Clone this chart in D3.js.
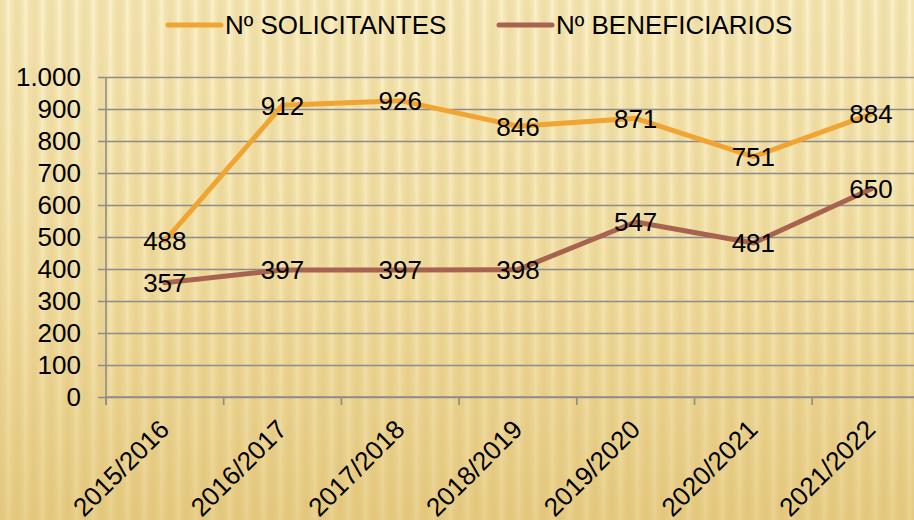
<!DOCTYPE html>
<html>
<head>
<meta charset="utf-8">
<script src="https://cdn.jsdelivr.net/npm/d3@7"></script>
<style>
  body { margin: 0; }
  svg { display: block; font-family: "Liberation Sans", Arial, sans-serif; }
</style>
</head>
<body>
<div id="container"></div>
<script>
/* DATA */
const categories = ["2015/2016", "2016/2017", "2017/2018", "2018/2019", "2019/2020", "2020/2021", "2021/2022"];
const solicitantes = [488, 912, 926, 846, 871, 751, 884];
const beneficiarios = [357, 397, 397, 398, 547, 481, 650];
const yTicks = [0, 100, 200, 300, 400, 500, 600, 700, 800, 900, 1000];
const seriesNames = ["Nº SOLICITANTES", "Nº BENEFICIARIOS"];

/* CONSTANTS */
const width = 914;
const height = 520;
const margin = { top: 77, left: 106, bottom: 123 };
const bandW = 117.7;
const colors = ["#F0A431", "#A86350"];
const gridColor = "#8c8c8c";

const svg = d3.select("#container")
  .append("svg")
  .attr("width", width)
  .attr("height", height);

/* BACKGROUND */
const defs = svg.append("defs");
const bg = defs.append("linearGradient")
  .attr("id", "bg").attr("x1", 0).attr("y1", 0).attr("x2", 0).attr("y2", 1);
bg.append("stop").attr("offset", "0%").attr("stop-color", "#F8EBBC");
bg.append("stop").attr("offset", "55%").attr("stop-color", "#F0DC9E");
bg.append("stop").attr("offset", "100%").attr("stop-color", "#E5C97F");

const stripe = defs.append("linearGradient")
  .attr("id", "stripe").attr("x1", 0).attr("y1", 0).attr("x2", 1).attr("y2", 0);
stripe.append("stop").attr("offset", "0%").attr("stop-color", "#c9a64a").attr("stop-opacity", 0.18);
stripe.append("stop").attr("offset", "50%").attr("stop-color", "#fff8dc").attr("stop-opacity", 0.4);
stripe.append("stop").attr("offset", "100%").attr("stop-color", "#c9a64a").attr("stop-opacity", 0.18);

const pattern = defs.append("pattern")
  .attr("id", "stripes")
  .attr("patternUnits", "userSpaceOnUse")
  .attr("width", 17).attr("height", height);
pattern.append("rect").attr("width", 17).attr("height", height).attr("fill", "url(#stripe)");

const fade = defs.append("linearGradient")
  .attr("id", "fade").attr("x1", 0).attr("y1", 0).attr("x2", 0).attr("y2", 1);
fade.append("stop").attr("offset", "0%").attr("stop-color", "#fff").attr("stop-opacity", 1);
fade.append("stop").attr("offset", "100%").attr("stop-color", "#fff").attr("stop-opacity", 0.45);
defs.append("mask").attr("id", "fadeMask")
  .append("rect").attr("width", width).attr("height", height).attr("fill", "url(#fade)");

svg.append("rect").attr("width", width).attr("height", height).attr("fill", "url(#bg)");
svg.append("rect").attr("width", width).attr("height", height)
  .attr("fill", "url(#stripes)").attr("mask", "url(#fadeMask)");

/* SCALES */
const x = d3.scaleBand()
  .domain(categories)
  .range([margin.left, margin.left + bandW * categories.length])
  .padding(0);

const y = d3.scaleLinear()
  .domain([0, 1000])
  .range([height - margin.bottom, margin.top]);

const fmt = d3.formatLocale({ decimal: ",", thousands: ".", grouping: [3], currency: ["", "€"] }).format(",d");

/* GRID + Y AXIS */
const yAxis = d3.axisLeft(y)
  .tickValues(yTicks)
  .tickSize(-(width - margin.left + 10))
  .tickPadding(25)
  .tickFormat(fmt);

const gy = svg.append("g")
  .attr("transform", `translate(${margin.left}, 0)`)
  .call(yAxis);
gy.select(".domain").remove();
gy.selectAll(".tick line")
  .attr("x1", -8)
  .attr("stroke", gridColor)
  .attr("stroke-width", 1.6);
gy.selectAll(".tick text")
  .attr("fill", "#000")
  .style("font-size", "26px")
  .style("font-family", "'Liberation Sans', Arial, sans-serif");

svg.append("line")
  .attr("x1", margin.left).attr("x2", margin.left)
  .attr("y1", y(1000)).attr("y2", y(0) + 8)
  .attr("stroke", gridColor).attr("stroke-width", 1.6);

/* X AXIS */
svg.append("line")
  .attr("x1", margin.left).attr("x2", width)
  .attr("y1", y(0)).attr("y2", y(0))
  .attr("stroke", gridColor).attr("stroke-width", 1.6);

svg.selectAll(".xtick")
  .data(categories)
  .enter()
  .append("line")
  .attr("class", "xtick")
  .attr("x1", d => x(d)).attr("x2", d => x(d))
  .attr("y1", y(0)).attr("y2", y(0) + 8)
  .attr("stroke", gridColor).attr("stroke-width", 1.6);

svg.selectAll(".xlabel")
  .data(categories)
  .enter()
  .append("text")
  .attr("class", "xlabel")
  .attr("transform", d => `translate(${x(d) + x.bandwidth() / 2 + 6}, 431) rotate(-45)`)
  .attr("text-anchor", "end")
  .style("font-size", "26px")
  .text(d => d);

/* LINES */
const series = [solicitantes, beneficiarios];
const line = d3.line()
  .x((d, i) => x(categories[i]) + x.bandwidth() / 2)
  .y(d => y(d));

series.forEach((vals, s) => {
  svg.append("path")
    .datum(vals)
    .attr("d", line)
    .attr("fill", "none")
    .attr("stroke", colors[s])
    .attr("stroke-width", 5)
    .attr("stroke-linejoin", "round")
    .attr("stroke-linecap", "round");
});

/* DATA LABELS */
series.forEach((vals, s) => {
  svg.selectAll(".lab" + s)
    .data(vals)
    .enter()
    .append("text")
    .attr("class", "lab" + s)
    .attr("x", (d, i) => x(categories[i]) + x.bandwidth() / 2)
    .attr("y", d => y(d))
    .attr("dy", "0.36em")
    .attr("text-anchor", "middle")
    .style("font-size", "26px")
    .text(d => d);
});

/* LEGEND */
const legendX = [168, 499];
const legend = svg.selectAll(".legend")
  .data(seriesNames)
  .enter()
  .append("g")
  .attr("class", "legend")
  .attr("transform", (d, i) => `translate(${legendX[i]}, 25)`);

legend.append("line")
  .attr("x1", 0).attr("x2", 53)
  .attr("stroke", (d, i) => colors[i])
  .attr("stroke-width", 5)
  .attr("stroke-linecap", "round");

legend.append("text")
  .attr("x", 57)
  .attr("dy", "0.36em")
  .style("font-size", "26px")
  .text(d => d);
</script>
</body>
</html>
